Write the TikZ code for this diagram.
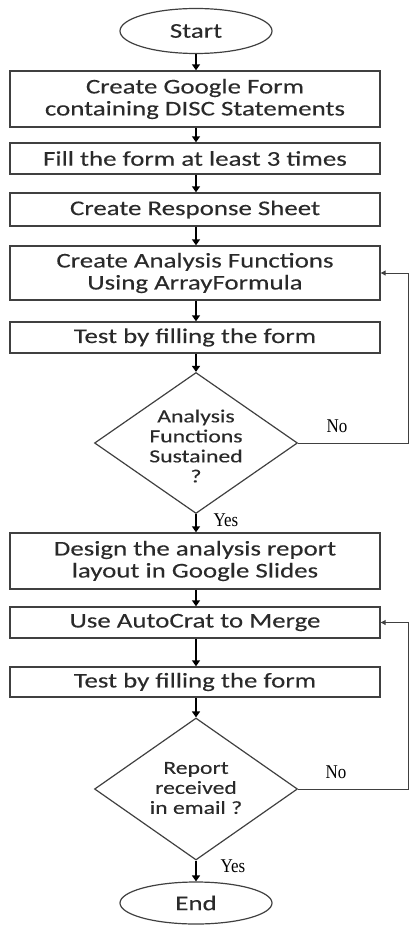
\documentclass[tikz,border=0pt]{standalone}
\usepackage{fontspec}
\setmainfont{Liberation Serif}
\newfontfamily\boxfont{Carlito}[FakeStretch=1.28,FakeBold=0.15]
\newfontfamily\lblfont{Liberation Serif}[FakeStretch=0.87]
\usetikzlibrary{shapes.geometric,arrows.meta}
\definecolor{edge}{HTML}{404040}
\definecolor{txt}{HTML}{2A2A2A}
\begin{document}
\begin{tikzpicture}[x=1pt,y=-1pt,
  stepbox/.style={draw=edge,line width=1.4pt,rectangle,minimum width=370pt,inner sep=0pt,align=center,
    text=txt,font=\boxfont\fontsize{21}{22}\selectfont},
  term/.style={draw=edge,line width=1.2pt,ellipse,minimum width=152pt,inner sep=0pt,
    text=txt,font=\boxfont\fontsize{21}{22}\selectfont},
  decision/.style={draw=edge,line width=1.2pt,diamond,minimum width=203pt,minimum height=141pt,inner sep=0pt},
  dtext/.style={align=center,text=txt,font=\boxfont\fontsize{18.5}{20}\selectfont},
  flow/.style={line width=2pt,-{Triangle[length=6pt,width=8pt]}},
  back/.style={line width=1pt,draw=edge,-{Triangle[length=5pt,width=5pt]}},
  lbl/.style={font=\lblfont\fontsize{19.5}{20}\selectfont,text=black}]
\useasboundingbox (0,0) rectangle (409,925);
\node[term,minimum height=45pt] (start) at (196,31) {Start};
\node[stepbox,minimum height=56pt] (b1) at (195,99) {Create Google Form\\containing DISC Statements};
\node[stepbox,minimum height=31pt] (b2) at (195,158.5) {Fill the form at least 3 times};
\node[stepbox,minimum height=33pt] (b3) at (195,209.5) {Create Response Sheet};
\node[stepbox,minimum height=54pt] (b4) at (195,273) {Create Analysis Functions\\Using ArrayFormula};
\node[stepbox,minimum height=31pt] (b5) at (195,337.5) {Test by filling the form};
\node[decision] (d1) at (196,443) {};
\node[dtext] (d1t) at (196,446) {Analysis\\Functions\\Sustained\\?};
\node[stepbox,minimum height=56pt] (b6) at (195,561) {Design the analysis report\\layout in Google Slides};
\node[stepbox,minimum height=31pt] (b7) at (195,622.5) {Use AutoCrat to Merge};
\node[stepbox,minimum height=30pt] (b8) at (195,682) {Test by filling the form};
\node[decision,minimum height=142pt] (d2) at (196,789) {};
\node[dtext] (d2t) at (196,788) {Report\\received\\in email ?};
\node[term,minimum height=42pt] (end) at (196,903) {End};

\draw[flow] (start) -- (start|-b1.north);
\draw[flow] (b1.south-|start) -- (start|-b2.north);
\draw[flow] (b2.south-|start) -- (start|-b3.north);
\draw[flow] (b3.south-|start) -- (start|-b4.north);
\draw[flow] (b4.south-|start) -- (start|-b5.north);
\draw[flow] (b5.south-|start) -- (d1.north);
\draw[flow] (d1.south) -- (d1.south|-b6.north);
\draw[flow] (b6.south-|start) -- (start|-b7.north);
\draw[flow] (b7.south-|start) -- (start|-b8.north);
\draw[flow] (b8.south-|start) -- (d2.north);
\draw[flow] (d2.south) -- (end.north);

\coordinate (r1) at (408,443);
\coordinate (r2) at (408,789);
\draw[back] (d1.east) -- (r1) |- (b4.east);
\draw[back] (d2.east) -- (r2) |- (b7.east);

\node[lbl] (no1) at (337,426) {No};
\node[lbl] (yes1) at (226,520) {Yes};
\node[lbl] (no2) at (336,772) {No};
\node[lbl] (yes2) at (233,866) {Yes};
\end{tikzpicture}
\end{document}
